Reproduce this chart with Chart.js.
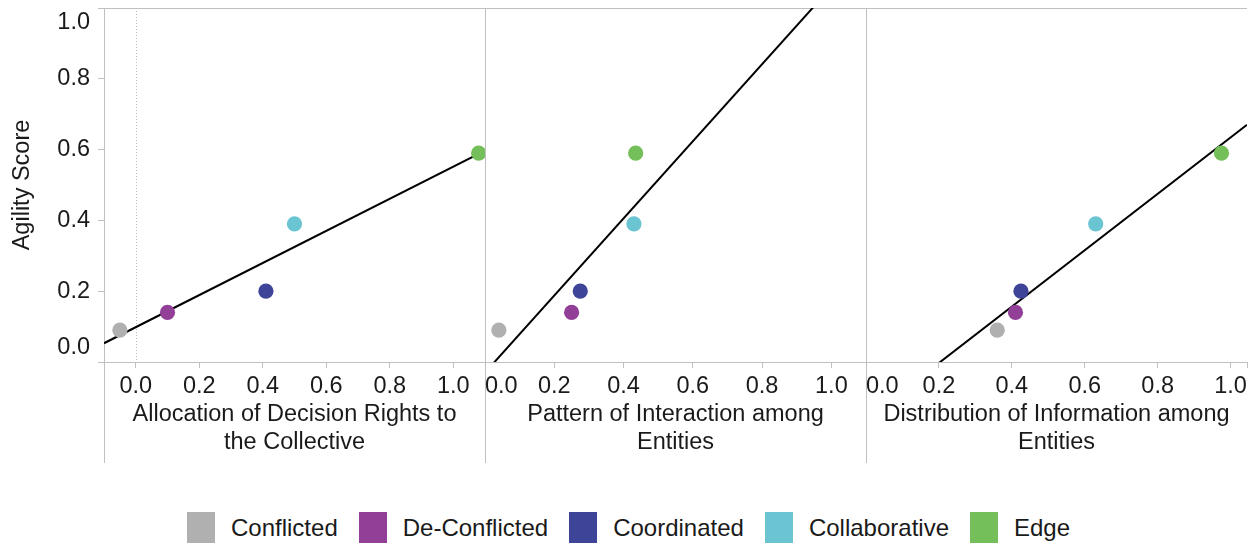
<!DOCTYPE html>
<html>
<head>
<meta charset="utf-8">
<title>Agility Score</title>
<script src="https://cdn.jsdelivr.net/npm/chart.js@4.4.0/dist/chart.umd.min.js"></script>
<style>
  body { margin: 0; background: #fff; font-family: Arial, "Liberation Sans", sans-serif; }
  #wrap { position: relative; width: 1249px; height: 546px; overflow: hidden; }
  #wrap canvas { position: absolute; top: 0; }
  #legend { position: absolute; left: 187px; top: 512px; display: flex; align-items: center; }
  .item { display: flex; align-items: center; margin-right: 21px; }
  .sw { width: 28px; height: 31px; margin-right: 16px; }
  .lbl { font-size: 24px; color: #1a1a1a; line-height: 31px; }
</style>
</head>
<body>
<div id="wrap">
  <canvas id="panel0" width="486" height="470" style="left:0px"></canvas>
  <canvas id="panel1" width="382" height="470" style="left:485px"></canvas>
  <canvas id="panel2" width="383" height="470" style="left:866px"></canvas>
  <div id="legend"></div>
</div>
<script>
// categories and colours
const categories = ['Conflicted', 'De-Conflicted', 'Coordinated', 'Collaborative', 'Edge'];
const colors = ['#b0b0b0', '#923f98', '#3e4497', '#6bc4d1', '#75bf5b'];

// y values (shared by all panels)
const agilityScore = [0.09, 0.14, 0.20, 0.39, 0.59];

// x values, one array per panel
const decisionRights = [-0.05, 0.10, 0.41, 0.50, 1.08];
const interaction = [0.04, 0.25, 0.275, 0.43, 0.435];
const information = [0.36, 0.41, 0.425, 0.63, 0.975];

// axis ticks and titles
const yTicks = [0, 0.2, 0.4, 0.6, 0.8, 1.0];
const xTicks = [0, 0.2, 0.4, 0.6, 0.8, 1.0];
const xTitles = [
    ['Allocation of Decision Rights to', 'the Collective'],
    ['Pattern of Interaction among', 'Entities'],
    ['Distribution of Information among', 'Entities']
];
const xMin = [-0.1, 0, 0];
const xMax = [1.1, 1.1, 1.045];

// trend line end points
const trendX = [[-0.1, 1.1], [0, 1.1], [0, 1.045]];
const trendY = [[0.053, 0.597], [-0.03, 1.168], [-0.162, 0.670]];

const axisGray = '#c0c0c0';
const textColor = '#1a1a1a';
const fontFamily = 'Arial, "Liberation Sans", sans-serif';
const fontSize = 23.5;

// panel borders + dotted zero line
const framePlugin = {
    id: 'frame',
    beforeDatasetsDraw(chart, args, opts) {
        const { ctx, chartArea: a, scales } = chart;
        ctx.save();
        ctx.strokeStyle = axisGray;
        ctx.lineWidth = 1;
        ctx.beginPath();
        ctx.moveTo(a.left + 0.5, a.top);
        ctx.lineTo(a.left + 0.5, 463);
        ctx.moveTo(a.left - (opts.tickOut || 0), a.top + 0.5);
        ctx.lineTo(a.right, a.top + 0.5);
        ctx.stroke();
        if (opts.zeroLine) {
            const x = Math.round(scales.x.getPixelForValue(0)) + 0.5;
            ctx.strokeStyle = '#b8b8b8';
            ctx.setLineDash([1, 2]);
            ctx.beginPath();
            ctx.moveTo(x, a.top);
            ctx.lineTo(x, a.bottom);
            ctx.stroke();
        }
        ctx.restore();
    }
};

function makePanel(idx, xValues) {
    const first = idx === 0;
    const tickValues = first ? xTicks : xTicks.concat([xMax[idx]]);
    const points = xValues.map((x, i) => ({ x: x, y: agilityScore[i] }));
    const trend = trendX[idx].map((x, i) => ({ x: x, y: trendY[idx][i] }));

    return new Chart(document.getElementById('panel' + idx), {
        data: {
            datasets: [{
                type: 'line',
                label: 'Trend',
                data: trend,
                borderColor: '#000',
                borderWidth: 2,
                pointRadius: 0,
                fill: false,
                order: 2
            }, {
                type: 'scatter',
                label: 'Agility',
                data: points,
                backgroundColor: colors,
                borderWidth: 0,
                pointRadius: 7.6,
                clip: { left: 10, top: 10, right: 0, bottom: 10 },
                order: 1
            }]
        },
        options: {
            responsive: false,
            animation: false,
            events: [],
            layout: {
                autoPadding: false,
                padding: { top: 8, left: 0, right: idx === 2 ? 2 : 1, bottom: 0 }
            },
            plugins: {
                legend: { display: false },
                tooltip: { enabled: false },
                frame: { tickOut: first ? 6 : 0, zeroLine: first }
            },
            scales: {
                x: {
                    type: 'linear',
                    min: xMin[idx],
                    max: xMax[idx],
                    afterBuildTicks: s => { s.ticks = tickValues.map(v => ({ value: v })); },
                    afterFit: s => { s.height = 108; s.paddingLeft = 0; s.paddingRight = 0; },
                    grid: { drawOnChartArea: false, drawTicks: true, tickLength: 6, tickColor: axisGray },
                    border: { display: true, color: axisGray },
                    ticks: {
                        align: first ? 'center' : 'inner',
                        maxRotation: 0,
                        autoSkip: false,
                        padding: 4,
                        color: textColor,
                        font: { family: fontFamily, size: fontSize },
                        callback: v => xTicks.includes(v) ? v.toFixed(1) : ''
                    },
                    title: {
                        display: true,
                        text: xTitles[idx],
                        color: textColor,
                        font: { family: fontFamily, size: fontSize, lineHeight: '28px' },
                        padding: { top: 0, bottom: 13 }
                    }
                },
                y: {
                    type: 'linear',
                    display: first,
                    min: 0,
                    max: 1,
                    afterBuildTicks: s => { s.ticks = yTicks.map(v => ({ value: v })); },
                    afterFit: s => { s.width = first ? 104 : 0; s.paddingTop = 0; s.paddingBottom = 0; },
                    grid: { drawOnChartArea: false, drawTicks: true, tickLength: 6, tickColor: axisGray },
                    border: { display: true, color: axisGray },
                    ticks: {
                        padding: 8,
                        color: textColor,
                        font: { family: fontFamily, size: fontSize },
                        // end labels sit inside the panel, like the original
                        callback: v => v === 0 ? ['0.0', ''] : (v === 1 ? ['', '1.0'] : v.toFixed(1))
                    },
                    title: {
                        display: true,
                        text: 'Agility Score',
                        color: textColor,
                        font: { family: fontFamily, size: fontSize },
                        padding: { top: 8, bottom: 0 }
                    }
                }
            }
        },
        plugins: [framePlugin]
    });
}

makePanel(0, decisionRights);
makePanel(1, interaction);
makePanel(2, information);

// legend
const legend = document.getElementById('legend');
categories.forEach((name, i) => {
    const item = document.createElement('div');
    item.className = 'item';
    const sw = document.createElement('div');
    sw.className = 'sw';
    sw.style.background = colors[i];
    const lbl = document.createElement('span');
    lbl.className = 'lbl';
    lbl.textContent = name;
    item.appendChild(sw);
    item.appendChild(lbl);
    legend.appendChild(item);
});
</script>
</body>
</html>
